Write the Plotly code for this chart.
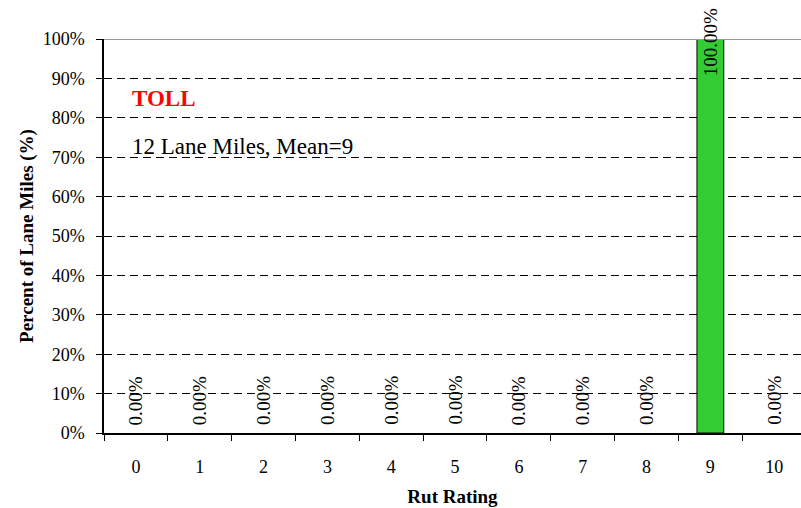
import plotly.graph_objects as go

categories = ["0", "1", "2", "3", "4", "5", "6", "7", "8", "9", "10"]
percent_values = [0, 0, 0, 0, 0, 0, 0, 0, 0, 1.0, 0]
y_tick_values = [0, 0.1, 0.2, 0.3, 0.4, 0.5, 0.6, 0.7, 0.8, 0.9, 1.0]
y_tick_labels = ["0%", "10%", "20%", "30%", "40%", "50%", "60%", "70%", "80%", "90%", "100%"]
title_text = "TOLL"
subtitle_text = "12 Lane Miles, Mean=9"
x_title = "Rut Rating"
y_title = "Percent of Lane Miles (%)"

FONT = "Liberation Serif"

fig = go.Figure()
fig.add_trace(go.Bar(
    x=categories, y=percent_values, width=0.42,
    marker=dict(color="#33CC33",
                line=dict(color="#000000", width=[1 if v > 0 else 0 for v in percent_values])),
    hoverinfo="skip", showlegend=False,
))

for c, v in zip(categories, percent_values):
    big = v > 0.5
    fig.add_annotation(
        x=c, y=v, xref="x", yref="y",
        text=f"{v*100:.2f}%", textangle=-90, showarrow=False,
        font=dict(family=FONT, size=19, color="#000"),
        yanchor="middle" if big else "bottom",
        yshift=-3 if big else 6,
    )

# top 100% border line
fig.add_shape(type="line", xref="paper", yref="y", x0=0, x1=1, y0=y_tick_values[-1], y1=y_tick_values[-1],
              line=dict(color="#9a9a9a", width=2), layer="above")

fig.add_annotation(xref="paper", yref="paper", x=0.037, y=0.85, xanchor="left", yanchor="middle",
                   text=f"<b>{title_text}</b>", showarrow=False,
                   font=dict(family=FONT, size=23, color="#FF0000"))
fig.add_annotation(xref="paper", yref="paper", x=0.037, y=0.726, xanchor="left", yanchor="middle",
                   text=subtitle_text, showarrow=False,
                   font=dict(family=FONT, size=23, color="#000"))

fig.update_layout(
    width=801, height=508,
    margin=dict(l=104, r=0, t=39, b=75, autoexpand=False),
    paper_bgcolor="white", plot_bgcolor="white",
    font=dict(family=FONT, size=18, color="#000"),
    xaxis=dict(
        type="category", range=[-0.5, 10.42], automargin=False,
        tickson="boundaries", ticks="outside", ticklen=6, tickcolor="#000",
        showline=True, linecolor="#000", linewidth=1.5,
        showgrid=False, zeroline=False,
        tickfont=dict(family=FONT, size=18),
        ticklabelstandoff=17,
        title=dict(text=f"<b>{x_title}</b>", font=dict(family=FONT, size=19), standoff=13),
    ),
    yaxis=dict(
        range=[0, 1.0], tickvals=y_tick_values, ticktext=y_tick_labels, automargin=False,
        ticks="outside", ticklen=6, tickcolor="#000",
        showline=True, linecolor="#000", linewidth=1.5,
        showgrid=True, gridcolor="#000", gridwidth=1, griddash="8px,5px",
        zeroline=False,
        tickfont=dict(family=FONT, size=18),
        ticklabelstandoff=8,
        title=dict(text=f"<b>{y_title}</b>", font=dict(family=FONT, size=19), standoff=4),
    ),
)

fig.write_html("out.html", config={"displayModeBar": False},
               post_script="document.body.style.margin='0';document.body.style.padding='0';")
